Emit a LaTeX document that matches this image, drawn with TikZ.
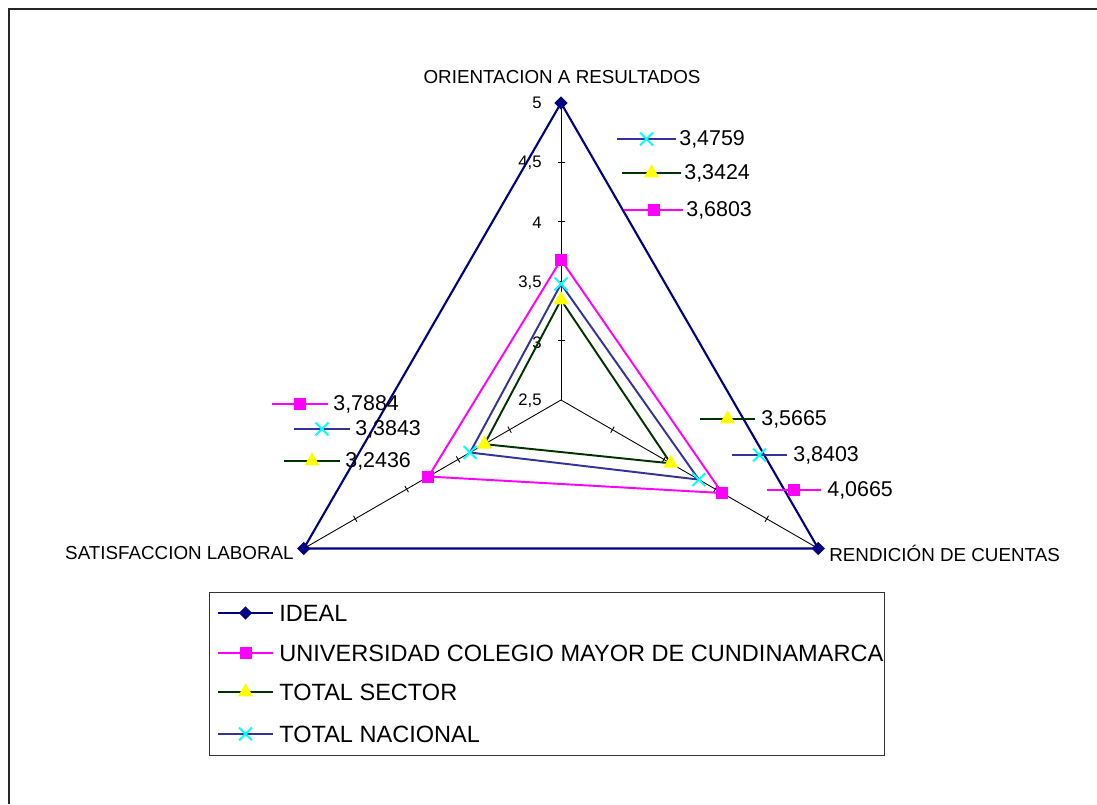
\documentclass[tikz,border=0pt]{standalone}
\usepackage{fontspec}
\setmainfont{Liberation Sans}
\usetikzlibrary{shapes.geometric,shapes.misc,calc}
\definecolor{idealc}{RGB}{0,0,128}
\definecolor{univc}{RGB}{255,0,255}
\definecolor{sectc}{RGB}{0,51,0}
\definecolor{nacc}{RGB}{51,51,153}
\definecolor{crossc}{RGB}{0,255,255}
\definecolor{triac}{RGB}{255,255,0}
\tikzset{
  idealline/.style={draw=idealc,line width=1.2pt},
  univline/.style={draw=univc,line width=1.1pt},
  sectline/.style={draw=sectc,line width=1.1pt},
  nacline/.style={draw=nacc,line width=1.1pt},
  spoke/.style={draw=black,line width=0.5pt},
  mdiam/.style={diamond,fill=idealc,inner sep=0pt,minimum width=0.27cm,minimum height=0.27cm},
  msq/.style={rectangle,fill=univc,inner sep=0pt,minimum size=0.24cm},
  mtri/.style={regular polygon,regular polygon sides=3,fill=triac,inner sep=0pt,minimum size=0.35cm},
  mcross/.style={cross out,draw=crossc,line width=1.1pt,inner sep=0pt,minimum size=0.22cm},
  vallab/.style={anchor=west,inner sep=0pt,font=\fontsize{12.2pt}{14pt}\selectfont},
  axlab/.style={inner sep=0pt,font=\fontsize{10.7pt}{12pt}\selectfont},
  ticklab/.style={anchor=east,inner sep=0pt,font=\fontsize{9.5pt}{11pt}\selectfont},
  leglab/.style={anchor=west,inner sep=0pt,font=\fontsize{13.4pt}{15pt}\selectfont},
}
\begin{document}
\begin{tikzpicture}[x=0.02cm,y=-0.02cm]
\useasboundingbox (0,0) rectangle (1097,804);
% outer frame
\draw[line width=0.9pt,black!85] (9,804) -- (9,9) -- (1097,9);
% center and vertices
\coordinate (C) at (561,400);
\coordinate (T) at ([shift={(-90:297)}]C);
\coordinate (R) at ([shift={(30:297)}]C);
\coordinate (L) at ([shift={(150:297)}]C);
% spokes
\draw[spoke] (C) -- (T);
\draw[spoke] (C) -- (R);
\draw[spoke] (C) -- (L);
% ticks
\foreach \a in {-90,30,150}{
  \foreach \v in {0.5,1,1.5,2}{
    \draw[spoke] ([shift={(\a:{\v*118.8})}]C) ++(\a+90:3.5) -- ++(\a-90:7);
  }
}
% tick labels
\node[ticklab] (t50) at (542,103) {5};
\node[ticklab] (t45) at (542,163) {4,5};
\node[ticklab] (t40) at (542,223) {4};
\node[ticklab] (t35) at (542,283) {3,5};
\node[ticklab] (t30) at (542,343) {3};
\node[ticklab] (t25) at (542,401) {2,5};
% data coordinates
\coordinate (uT) at ([shift={(-90:{(3.6803-2.5)*118.8})}]C);
\coordinate (uR) at ([shift={(30:{(4.0665-2.5)*118.8})}]C);
\coordinate (uL) at ([shift={(150:{(3.7884-2.5)*118.8})}]C);
\coordinate (sT) at ([shift={(-90:{(3.3424-2.5)*118.8})}]C);
\coordinate (sR) at ([shift={(30:{(3.5665-2.5)*118.8})}]C);
\coordinate (sL) at ([shift={(150:{(3.2436-2.5)*118.8})}]C);
\coordinate (nT) at ([shift={(-90:{(3.4759-2.5)*118.8})}]C);
\coordinate (nR) at ([shift={(30:{(3.8403-2.5)*118.8})}]C);
\coordinate (nL) at ([shift={(150:{(3.3843-2.5)*118.8})}]C);
% series polygons
\draw[sectline] (sT) -- (sR) -- (sL) -- cycle;
\draw[nacline] (nT) -- (nR) -- (nL) -- cycle;
\draw[univline] (uT) -- (uR) -- (uL) -- cycle;
\draw[idealline] (T) -- (R) -- (L) -- cycle;
% markers
\node[mdiam] (mT) at (T) {};
\node[mdiam] (mR) at (R) {};
\node[mdiam] (mL) at (L) {};
\node[msq] (muT) at (uT) {};
\node[msq] (muR) at (uR) {};
\node[msq] (muL) at (uL) {};
\node[mtri] (msT) at (sT) {};
\node[mtri] (msR) at (sR) {};
\node[mtri] (msL) at (sL) {};
\node[mcross] (mnT) at (nT) {};
\node[mcross] (mnR) at (nR) {};
\node[mcross] (mnL) at (nL) {};
% axis labels
\node[axlab] (axT) at (562,77) {ORIENTACION A RESULTADOS};
\node[axlab,anchor=east] (axL) at (294,553) {SATISFACCION LABORAL};
\node[axlab,anchor=west] (axR) at (829,553) {RENDICIÓN DE CUENTAS};
% data labels: top
\coordinate (a1) at (617,139); \coordinate (a2) at (676,139);
\draw[nacline] (a1) -- (a2);
\node[mcross] (am) at ($(a1)!0.5!(a2)$) {};
\node[vallab] (av) at (679,139) {3,4759};
\coordinate (b1) at (622,173); \coordinate (b2) at (681,173);
\draw[sectline] (b1) -- (b2);
\node[mtri] (bm) at ($(b1)!0.5!(b2)$) {};
\node[vallab] (bv) at (684,173) {3,3424};
\coordinate (c1) at (624,210); \coordinate (c2) at (683,210);
\draw[univline] (c1) -- (c2);
\node[msq] (cm) at ($(c1)!0.5!(c2)$) {};
\node[vallab] (cv) at (686,210) {3,6803};
% data labels: left
\coordinate (d1) at (272,404); \coordinate (d2) at (328,404);
\draw[univline] (d1) -- (d2);
\node[msq] (dm) at ($(d1)!0.5!(d2)$) {};
\node[vallab] (dv) at (333,404) {3,7884};
\coordinate (e1) at (294,429); \coordinate (e2) at (350,429);
\draw[nacline] (e1) -- (e2);
\node[mcross] (em) at ($(e1)!0.5!(e2)$) {};
\node[vallab] (ev) at (355,429) {3,3843};
\coordinate (f1) at (284,461); \coordinate (f2) at (340,461);
\draw[sectline] (f1) -- (f2);
\node[mtri] (fm) at ($(f1)!0.5!(f2)$) {};
\node[vallab] (fv) at (345,461) {3,2436};
% data labels: right
\coordinate (g1) at (700,419); \coordinate (g2) at (755,419);
\draw[sectline] (g1) -- (g2);
\node[mtri] (gm) at ($(g1)!0.5!(g2)$) {};
\node[vallab] (gv) at (761,419) {3,5665};
\coordinate (h1) at (732,455); \coordinate (h2) at (787,455);
\draw[nacline] (h1) -- (h2);
\node[mcross] (hm) at ($(h1)!0.5!(h2)$) {};
\node[vallab] (hv) at (793,455) {3,8403};
\coordinate (i1) at (767,490); \coordinate (i2) at (821,490);
\draw[univline] (i1) -- (i2);
\node[msq] (im) at ($(i1)!0.5!(i2)$) {};
\node[vallab] (iv) at (827,490) {4,0665};
% legend
\node[draw=black!80,line width=0.6pt,minimum width=675*0.02cm,minimum height=163*0.02cm,anchor=north west,inner sep=0pt] (leg) at (209,592) {};
\coordinate (l1a) at (218,613); \coordinate (l1b) at (273,613);
\draw[idealline] (l1a) -- (l1b);
\node[mdiam] (l1m) at ($(l1a)!0.5!(l1b)$) {};
\node[leglab] (l1t) at (279,613) {IDEAL};
\coordinate (l2a) at (218,653); \coordinate (l2b) at (273,653);
\draw[univline] (l2a) -- (l2b);
\node[msq] (l2m) at ($(l2a)!0.5!(l2b)$) {};
\node[leglab] (l2t) at (279,653) {UNIVERSIDAD COLEGIO MAYOR DE CUNDINAMARCA};
\coordinate (l3a) at (218,692); \coordinate (l3b) at (273,692);
\draw[sectline] (l3a) -- (l3b);
\node[mtri] (l3m) at ($(l3a)!0.5!(l3b)$) {};
\node[leglab] (l3t) at (279,692) {TOTAL SECTOR};
\coordinate (l4a) at (218,734); \coordinate (l4b) at (273,734);
\draw[nacline] (l4a) -- (l4b);
\node[mcross] (l4m) at ($(l4a)!0.5!(l4b)$) {};
\node[leglab] (l4t) at (279,734) {TOTAL NACIONAL};
\end{tikzpicture}
\end{document}
